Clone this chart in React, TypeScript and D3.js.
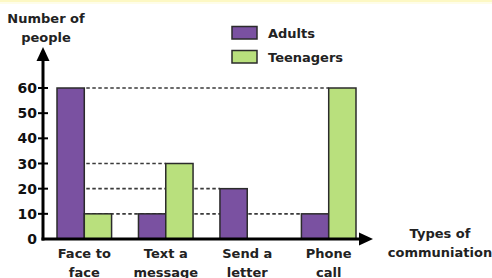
import { useRef, useEffect } from 'react'
import * as d3 from 'd3'

const categories = ['Face to face', 'Text a message', 'Send a letter', 'Phone call']
const catLines = [['Face to', 'face'], ['Text a', 'message'], ['Send a', 'letter'], ['Phone', 'call']]
const seriesNames = ['Adults', 'Teenagers']
const adults = [60, 10, 20, 10]
const teenagers = [10, 30, 0, 60]
const yTicks = [0, 10, 20, 30, 40, 50, 60]
const gridValues = [60, 30, 20, 10]

const colors = ['#7a51a1', '#b9e07d']

function App() {
  const ref = useRef<SVGSVGElement>(null)

  useEffect(() => {
    const svg = d3.select(ref.current)
    svg.selectAll('*').remove()
    const font = "'DejaVu Sans', sans-serif"

    const x = d3.scaleBand().domain(categories).range([57, 356]).paddingInner(0.33)
    const xs = d3.scaleBand().domain(seriesNames).range([0, x.bandwidth()])
    const y = d3.scaleLinear().domain([0, 60]).range([239, 88])
    const axisX = 43

    const rows = categories.flatMap((c, i) => [
      { cat: c, s: seriesNames[0], v: adults[i] },
      { cat: c, s: seriesNames[1], v: teenagers[i] },
    ])

    // faint yellow strip at the top
    svg.append('rect').attr('x', 0).attr('y', 0).attr('width', 492).attr('height', 2).attr('fill', '#fdf8c4')
    svg.append('rect').attr('x', 0).attr('y', 2).attr('width', 492).attr('height', 2).attr('fill', '#fefde9')

    // dashed guide lines, drawn behind the bars
    const startX = (x(categories[0]) as number) + (xs(seriesNames[0]) as number) + xs.bandwidth()
    gridValues.forEach(v => {
      const last = rows.filter(r => r.v === v).pop()!
      const endX = (x(last.cat) as number) + (xs(last.s) as number)
      svg.append('line')
        .attr('x1', startX + 2).attr('x2', endX)
        .attr('y1', y(v)).attr('y2', y(v))
        .attr('stroke', '#3a3a3a').attr('stroke-width', 1.6)
        .attr('stroke-dasharray', '3.5,2.5')
    })

    // bars
    svg.selectAll('rect.bar')
      .data(rows.filter(r => r.v > 0))
      .enter()
      .append('rect')
      .attr('class', 'bar')
      .attr('x', d => (x(d.cat) as number) + (xs(d.s) as number))
      .attr('y', d => y(d.v))
      .attr('width', xs.bandwidth())
      .attr('height', d => y(0) - y(d.v))
      .attr('fill', d => colors[seriesNames.indexOf(d.s)])
      .attr('stroke', '#2b2b2b')
      .attr('stroke-width', 1.5)

    // y axis with arrow
    svg.append('line').attr('x1', axisX).attr('x2', axisX).attr('y1', y(0) + 1.5).attr('y2', 58)
      .attr('stroke', '#000').attr('stroke-width', 3)
    svg.append('path').attr('d', `M${axisX},47 L${axisX - 6.5},61 L${axisX + 6.5},61 Z`).attr('fill', '#000')

    // x axis with arrow
    svg.append('line').attr('x1', axisX - 1.5).attr('x2', 362).attr('y1', y(0)).attr('y2', y(0))
      .attr('stroke', '#000').attr('stroke-width', 3)
    svg.append('path').attr('d', `M373,${y(0)} L359,${y(0) - 6.5} L359,${y(0) + 6.5} Z`).attr('fill', '#000')

    // y ticks
    yTicks.forEach(t => {
      if (t > 0) {
        svg.append('line').attr('x1', axisX - 5).attr('x2', axisX + 5)
          .attr('y1', y(t)).attr('y2', y(t)).attr('stroke', '#000').attr('stroke-width', 2)
      }
      svg.append('text').attr('x', 37).attr('y', y(t) + 5)
        .attr('text-anchor', 'end').style('font', `bold 14px ${font}`).attr('fill', '#111')
        .text(t)
    })

    // category labels
    categories.forEach((c, i) => {
      const cx = (x(c) as number) + x.bandwidth() / 2
      catLines[i].forEach((ln, j) => {
        svg.append('text').attr('x', cx).attr('y', 258 + j * 18.5)
          .attr('text-anchor', 'middle').style('font', `bold 13px ${font}`).attr('fill', '#222')
          .text(ln)
      })
    })

    // axis titles
    ;['Number of', 'people'].forEach((t, j) => {
      svg.append('text').attr('x', 46).attr('y', 22.5 + j * 19)
        .attr('text-anchor', 'middle').style('font', `bold 13px ${font}`).attr('fill', '#222').text(t)
    })
    ;['Types of', 'communiation'].forEach((t, j) => {
      svg.append('text').attr('x', 440).attr('y', 238 + j * 19)
        .attr('text-anchor', 'middle').style('font', `bold 13px ${font}`).attr('fill', '#222').text(t)
    })

    // legend
    seriesNames.forEach((s, i) => {
      const ly = 26.5 + i * 24
      svg.append('rect').attr('x', 232).attr('y', ly).attr('width', 25).attr('height', 12.5)
        .attr('fill', colors[i]).attr('stroke', '#2b2b2b').attr('stroke-width', 1.5)
      svg.append('text').attr('x', 268).attr('y', ly + 11)
        .style('font', `bold 13px ${font}`).attr('fill', '#222').text(s)
    })
  }, [])

  return (
    <svg ref={ref} width={492} height={278}
      style={{ position: 'absolute', left: 0, top: 0, background: '#fff' }}>
    </svg>
  )
}

export default App
